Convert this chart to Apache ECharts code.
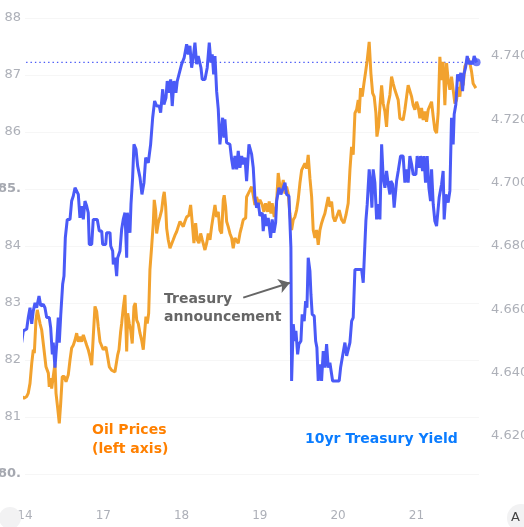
<!DOCTYPE html>
<html>
<head>
<meta charset="utf-8">
<script src="https://cdn.jsdelivr.net/npm/echarts@6/dist/echarts.min.js"></script>
<style>
  html, body { margin: 0; padding: 0; background: #fff; }
  #chart { width: 524px; height: 527px; }
</style>
</head>
<body>
<div id="chart"></div>
<script>
// trading days shown on the time axis (one unit = one session)
const dayLabels = ['14', '17', '18', '19', '20', '21'];

// oil price, left axis (day offset / price)
const oilT = [
  -0.042, -0.013, 0.022, 0.042, 0.064, 0.086, 0.106, 0.119, 0.140, 0.157,
  0.179, 0.192, 0.213, 0.243, 0.268, 0.298, 0.310, 0.328, 0.341, 0.361,
  0.383, 0.396, 0.418, 0.438, 0.456, 0.476, 0.502, 0.524, 0.553, 0.575,
  0.596, 0.617, 0.639, 0.660, 0.681, 0.702, 0.724, 0.745, 0.766, 0.788,
  0.808, 0.830, 0.852, 0.872, 0.894, 0.916, 0.936, 0.958, 0.980, 1.000,
  1.034, 1.051, 1.077, 1.107, 1.149, 1.171, 1.184, 1.201, 1.222, 1.235,
  1.255, 1.277, 1.299, 1.312, 1.332, 1.350, 1.370, 1.392, 1.409, 1.427,
  1.447, 1.469, 1.490, 1.511, 1.533, 1.545, 1.562, 1.580, 1.596, 1.618,
  1.639, 1.651, 1.669, 1.682, 1.702, 1.724, 1.746, 1.766, 1.779, 1.797,
  1.810, 1.830, 1.852, 1.874, 1.894, 1.916, 1.937, 1.958, 1.980, 2.001,
  2.022, 2.043, 2.065, 2.094, 2.116, 2.137, 2.158, 2.180, 2.201, 2.222,
  2.244, 2.264, 2.299, 2.321, 2.341, 2.363, 2.384, 2.405, 2.427, 2.448,
  2.469, 2.490, 2.512, 2.533, 2.545, 2.563, 2.576, 2.596, 2.618, 2.640,
  2.660, 2.682, 2.704, 2.724, 2.746, 2.768, 2.788, 2.819, 2.831, 2.852,
  2.874, 2.895, 2.916, 2.937, 2.959, 2.980, 3.001, 3.031, 3.052, 3.074,
  3.100, 3.120, 3.142, 3.158, 3.184, 3.202, 3.218, 3.235, 3.257, 3.278,
  3.299, 3.321, 3.342, 3.363, 3.384, 3.406, 3.427, 3.448, 3.470, 3.490,
  3.512, 3.534, 3.554, 3.576, 3.598, 3.618, 3.640, 3.662, 3.682, 3.704,
  3.725, 3.746, 3.768, 3.789, 3.810, 3.831, 3.853, 3.874, 3.895, 3.917,
  3.937, 3.959, 3.981, 4.014, 4.045, 4.074, 4.100, 4.129, 4.151, 4.172,
  4.193, 4.215, 4.236, 4.257, 4.270, 4.287, 4.308, 4.330, 4.355, 4.372,
  4.397, 4.419, 4.441, 4.461, 4.483, 4.496, 4.517, 4.534, 4.556, 4.576,
  4.598, 4.619, 4.636, 4.662, 4.683, 4.704, 4.725, 4.747, 4.768, 4.789,
  4.811, 4.831, 4.853, 4.875, 4.895, 4.917, 4.939, 4.959, 4.981, 5.003,
  5.023, 5.045, 5.066, 5.087, 5.109, 5.130, 5.151, 5.172, 5.194, 5.215,
  5.236, 5.258, 5.278, 5.300, 5.322, 5.342, 5.364, 5.386, 5.406, 5.428,
  5.449, 5.470, 5.492, 5.513, 5.534, 5.556, 5.577, 5.598, 5.619, 5.641,
  5.662, 5.683, 5.705, 5.725, 5.747, 5.760
];
const oilV = [
  81.36, 81.33, 81.36, 81.42, 81.59, 81.94, 82.18, 82.12, 82.70, 82.88,
  82.85, 82.64, 82.53, 82.18, 81.88, 81.77, 81.53, 81.68, 81.50, 81.71,
  81.94, 81.42, 81.15, 80.89, 81.24, 81.71, 81.71, 81.62, 81.74, 82.00,
  82.21, 82.26, 82.35, 82.47, 82.32, 82.41, 82.32, 82.44, 82.35, 82.26,
  82.18, 82.06, 81.91, 82.41, 82.94, 82.85, 82.58, 82.32, 82.29, 82.18,
  82.23, 82.09, 81.88, 81.82, 81.79, 81.77, 82.09, 82.18, 82.50, 82.64,
  82.91, 83.14, 82.15, 82.82, 82.64, 82.53, 82.29, 82.94, 83.00, 82.70,
  82.64, 82.47, 82.35, 82.18, 82.56, 82.76, 82.64, 82.82, 83.58, 83.99,
  84.40, 84.81, 84.63, 84.22, 84.40, 84.51, 84.63, 84.86, 84.95, 84.69,
  84.31, 84.11, 83.96, 83.93, 84.11, 84.19, 84.25, 84.34, 84.43, 84.46,
  84.34, 84.43, 84.51, 84.54, 84.72, 84.40, 84.05, 84.40, 84.11, 84.05,
  84.22, 84.11, 83.93, 84.05, 84.22, 84.11, 84.34, 84.37, 84.72, 84.51,
  84.60, 84.28, 84.22, 84.81, 84.89, 84.69, 84.43, 84.34, 84.22, 84.14,
  83.96, 84.14, 84.14, 84.05, 84.22, 84.34, 84.46, 84.49, 84.86, 84.92,
  84.98, 85.04, 84.89, 84.72, 84.86, 84.75, 84.81, 84.72, 84.60, 84.75,
  84.60, 84.78, 84.57, 84.75, 84.51, 84.63, 84.86, 85.28, 85.04, 84.98,
  85.16, 84.92, 85.04, 84.92, 84.57, 84.28, 84.46, 84.51, 84.63, 84.81,
  85.10, 85.33, 85.33, 85.45, 85.36, 85.60, 85.19, 84.86, 84.28, 84.14,
  84.28, 84.02, 84.28, 84.40, 84.49, 84.57, 84.60, 84.86, 84.69, 84.78,
  84.51, 84.43, 84.51, 84.63, 84.46, 84.40, 84.54, 84.75, 85.33, 85.74,
  85.60, 86.33, 86.39, 86.56, 86.33, 86.77, 86.62, 86.85, 87.09, 87.26,
  87.58, 87.03, 86.68, 86.62, 86.33, 85.92, 86.09, 86.44, 86.82, 86.50,
  86.36, 86.09, 86.47, 86.65, 86.97, 86.85, 86.74, 86.65, 86.56, 86.24,
  86.27, 86.21, 86.39, 86.62, 86.82, 86.79, 86.62, 86.47, 86.39, 86.53,
  86.44, 86.24, 86.42, 86.21, 86.36, 86.18, 86.39, 86.42, 86.53, 86.27,
  86.04, 85.98, 86.33, 87.32, 86.91, 87.23, 86.47, 87.21, 86.91, 86.74,
  86.97, 86.74, 86.50, 86.56, 86.79, 86.62, 87.03, 86.82, 87.15, 87.21,
  87.29, 87.21, 87.06, 86.85, 86.82, 86.77
];

// 10yr treasury yield, right axis (day offset / yield %)
const yieldT = [
  -0.042, -0.022, 0.022, 0.042, 0.064, 0.086, 0.106, 0.128, 0.149, 0.179,
  0.201, 0.234, 0.255, 0.277, 0.310, 0.328, 0.349, 0.361, 0.383, 0.405,
  0.425, 0.438, 0.456, 0.481, 0.498, 0.515, 0.540, 0.575, 0.596, 0.617,
  0.639, 0.660, 0.681, 0.702, 0.724, 0.745, 0.766, 0.788, 0.808, 0.821,
  0.852, 0.872, 0.923, 0.949, 0.980, 0.992, 1.031, 1.043, 1.086, 1.095,
  1.120, 1.128, 1.149, 1.171, 1.184, 1.213, 1.235, 1.255, 1.277, 1.299,
  1.307, 1.341, 1.354, 1.375, 1.392, 1.418, 1.439, 1.469, 1.494, 1.520,
  1.542, 1.575, 1.605, 1.631, 1.656, 1.682, 1.715, 1.733, 1.759, 1.775,
  1.801, 1.817, 1.839, 1.861, 1.881, 1.903, 1.928, 1.945, 1.967, 2.001,
  2.034, 2.065, 2.086, 2.107, 2.129, 2.149, 2.171, 2.193, 2.213, 2.248,
  2.264, 2.299, 2.328, 2.354, 2.375, 2.392, 2.410, 2.427, 2.448, 2.469,
  2.490, 2.512, 2.525, 2.542, 2.554, 2.576, 2.618, 2.640, 2.660, 2.682,
  2.704, 2.724, 2.746, 2.768, 2.788, 2.810, 2.831, 2.861, 2.895, 2.916,
  2.937, 2.959, 2.980, 3.001, 3.031, 3.043, 3.065, 3.087, 3.107, 3.138,
  3.158, 3.180, 3.202, 3.215, 3.244, 3.269, 3.299, 3.321, 3.342, 3.372,
  3.384, 3.397, 3.406, 3.427, 3.448, 3.461, 3.483, 3.499, 3.525, 3.541,
  3.567, 3.585, 3.602, 3.618, 3.640, 3.653, 3.669, 3.695, 3.713, 3.729,
  3.746, 3.771, 3.789, 3.810, 3.831, 3.853, 3.874, 3.895, 3.930, 3.981,
  4.014, 4.032, 4.057, 4.087, 4.109, 4.129, 4.151, 4.173, 4.193, 4.215,
  4.257, 4.300, 4.321, 4.342, 4.355, 4.372, 4.397, 4.415, 4.432, 4.448,
  4.470, 4.492, 4.512, 4.534, 4.556, 4.576, 4.598, 4.619, 4.640, 4.662,
  4.674, 4.696, 4.716, 4.747, 4.768, 4.798, 4.831, 4.853, 4.875, 4.895,
  4.917, 4.939, 4.959, 4.994, 5.010, 5.036, 5.054, 5.079, 5.096, 5.117,
  5.138, 5.160, 5.181, 5.194, 5.215, 5.236, 5.258, 5.291, 5.322, 5.342,
  5.355, 5.377, 5.406, 5.428, 5.449, 5.470, 5.483, 5.504, 5.526, 5.547,
  5.568, 5.590, 5.607, 5.628, 5.649, 5.675, 5.696, 5.718, 5.738, 5.769
];
const yieldV = [
  4.6495, 4.6532, 4.6538, 4.6574, 4.6605, 4.6554, 4.6595, 4.6621, 4.6605, 4.6642,
  4.6611, 4.6616, 4.6605, 4.6574, 4.6574, 4.6542, 4.6458, 4.6495, 4.6416, 4.6490,
  4.6574, 4.6495, 4.6579, 4.6679, 4.6705, 4.6826, 4.6884, 4.6884, 4.6942, 4.6958,
  4.6984, 4.6984, 4.6963, 4.6889, 4.6926, 4.6884, 4.6942, 4.6926, 4.6905, 4.6805,
  4.6805, 4.6884, 4.6884, 4.6847, 4.6847, 4.6805, 4.6805, 4.6842, 4.6842, 4.6800,
  4.6784, 4.6742, 4.6763, 4.6705, 4.6763, 4.6784, 4.6853, 4.6884, 4.6905, 4.6763,
  4.6905, 4.6842, 4.6932, 4.7016, 4.7121, 4.7105, 4.7053, 4.7016, 4.6963, 4.7000,
  4.7079, 4.7063, 4.7121, 4.7205, 4.7258, 4.7242, 4.7242, 4.7221, 4.7295, 4.7247,
  4.7268, 4.7321, 4.7284, 4.7326, 4.7242, 4.7321, 4.7284, 4.7321, 4.7321, 4.7374,
  4.7395, 4.7437, 4.7405, 4.7432, 4.7363, 4.7395, 4.7442, 4.7374, 4.7400, 4.7363,
  4.7326, 4.7326, 4.7363, 4.7442, 4.7379, 4.7405, 4.7342, 4.7400, 4.7289, 4.7232,
  4.7121, 4.7174, 4.7205, 4.7142, 4.7200, 4.7126, 4.7121, 4.7074, 4.7042, 4.7084,
  4.7042, 4.7100, 4.7047, 4.7084, 4.7058, 4.7079, 4.7005, 4.7121, 4.7090, 4.7047,
  4.6953, 4.6921, 4.6937, 4.6895, 4.6905, 4.6847, 4.6900, 4.6863, 4.6889, 4.6826,
  4.6884, 4.6842, 4.6874, 4.6942, 4.6984, 4.6963, 4.6984, 4.7000, 4.6963, 4.6958,
  4.6879, 4.6795, 4.6374, 4.6553, 4.6500, 4.6532, 4.6458, 4.6490, 4.6500, 4.6584,
  4.6563, 4.6626, 4.6605, 4.6763, 4.6721, 4.6647, 4.6584, 4.6579, 4.6500, 4.6479,
  4.6374, 4.6426, 4.6374, 4.6468, 4.6416, 4.6490, 4.6416, 4.6431, 4.6374, 4.6374,
  4.6374, 4.6416, 4.6416, 4.6495, 4.6453, 4.6453, 4.6495, 4.6563, 4.6574, 4.6726,
  4.6726, 4.6726, 4.6684, 4.6805, 4.6879, 4.6932, 4.7042, 4.6995, 4.6921, 4.7042,
  4.7000, 4.6884, 4.6932, 4.6884, 4.7121, 4.7016, 4.6984, 4.7037, 4.6995, 4.6963,
  4.7005, 4.6995, 4.6921, 4.7005, 4.7037, 4.7084, 4.7084, 4.7000, 4.7042, 4.7000,
  4.7084, 4.7058, 4.7026, 4.7026, 4.7084, 4.7047, 4.7084, 4.7037, 4.7084, 4.7000,
  4.7084, 4.6984, 4.6942, 4.7042, 4.6932, 4.6879, 4.6863, 4.6953, 4.6995, 4.7037,
  4.6884, 4.6963, 4.6937, 4.6974, 4.7205, 4.7121, 4.7216, 4.7247, 4.7342, 4.7321,
  4.7347, 4.7289, 4.7342, 4.7363, 4.7400, 4.7374, 4.7384, 4.7374, 4.7400, 4.7380
];

// arrow of the "Treasury announcement" note: tail and tip (day offset / yield)
const noteArrowFrom = [2.788, 4.6637];
const noteArrowTo = [3.384, 4.6684];

const BLUE = '#4a5af7';
const ORANGE = '#f2a22e';
const AXIS_GREY = '#adb0b8';
const FONT = 'DejaVu Sans';

const oilData = oilT.map((t, i) => [t, oilV[i]]);
const yieldData = yieldT.map((t, i) => [t, yieldV[i]]);
const lastYield = yieldData[yieldData.length - 1];

const myChart = echarts.init(document.getElementById('chart'));
const option = {
  animation: false,
  backgroundColor: '#fff',
  grid: { left: 25, right: 45, top: 18, bottom: 53, outerBoundsMode: 'none' },
  xAxis: {
    type: 'value',
    min: 0,
    max: 5.8,
    interval: 1,
    axisLine: { show: false },
    axisTick: { show: false },
    splitLine: { show: false },
    axisLabel: {
      margin: 36,
      color: AXIS_GREY,
      fontSize: 12,
      fontFamily: FONT,
      showMaxLabel: false,
      formatter: v => dayLabels[Math.round(v)] || ''
    }
  },
  yAxis: [
    {
      type: 'value',
      position: 'left',
      min: 80,
      max: 88,
      interval: 1,
      axisLine: { show: false },
      axisTick: { show: false },
      splitLine: { lineStyle: { color: '#f6f6f6', width: 1 } },
      axisLabel: {
        margin: 4,
        color: AXIS_GREY,
        fontSize: 13,
        fontFamily: FONT,
        formatter: v => (v === 85 || v === 80) ? '{b|' + v + '.}' : String(v),
        rich: {
          b: { fontWeight: 'bold', color: '#a5a8b0', fontSize: 13, fontFamily: FONT }
        }
      }
    },
    {
      type: 'value',
      position: 'right',
      min: 4.608,
      max: 4.752,
      splitNumber: 7,
      axisLine: { show: false },
      axisTick: { show: false },
      splitLine: { show: false },
      axisLabel: {
        margin: 12,
        color: AXIS_GREY,
        fontSize: 13,
        fontFamily: FONT,
        showMinLabel: false,
        showMaxLabel: false,
        formatter: v => v.toFixed(3)
      }
    }
  ],
  series: [
    {
      name: 'Oil Prices',
      type: 'line',
      yAxisIndex: 0,
      data: oilData,
      showSymbol: false,
      clip: false,
      lineStyle: { color: ORANGE, width: 3 },
      itemStyle: { color: ORANGE },
      z: 2
    },
    {
      name: '10yr Treasury Yield',
      type: 'line',
      yAxisIndex: 1,
      data: yieldData,
      showSymbol: false,
      clip: false,
      lineStyle: { color: BLUE, width: 3 },
      itemStyle: { color: BLUE },
      z: 3,
      markLine: {
        silent: true,
        symbol: ['none', 'arrow'],
        symbolSize: 11,
        label: { show: false },
        lineStyle: { color: '#666', width: 2, type: 'solid' },
        data: [[{ coord: noteArrowFrom }, { coord: noteArrowTo }]]
      }
    },
    {
      // level of the latest yield, carried back across the chart
      name: 'last yield',
      type: 'line',
      yAxisIndex: 1,
      data: [[yieldT[0], lastYield[1]], [lastYield[0], lastYield[1]]],
      showSymbol: false,
      clip: false,
      lineStyle: { color: BLUE, width: 1.4, type: [1.4, 3] },
      z: 1
    },
    {
      type: 'scatter',
      yAxisIndex: 1,
      data: [lastYield],
      symbolSize: 8,
      clip: false,
      itemStyle: { color: BLUE },
      z: 4
    }
  ],
  graphic: [
    {
      type: 'text', left: 92, top: 421, z: 10,
      style: { text: 'Oil Prices\n(left axis)', font: 'bold 14px "DejaVu Sans"', fill: '#ff8000', lineHeight: 19 }
    },
    {
      type: 'text', left: 305, top: 430, z: 10,
      style: { text: '10yr Treasury Yield', font: 'bold 14px "DejaVu Sans"', fill: '#0a7cff', lineHeight: 19 }
    },
    {
      type: 'text', left: 164, top: 290, z: 10,
      style: { text: 'Treasury\nannouncement', font: 'bold 14px "DejaVu Sans"', fill: '#666', lineHeight: 18.5 }
    },
    {
      type: 'circle', z: 10,
      shape: { cx: 10, cy: 518, r: 11 },
      style: { fill: '#f2f2f3' }
    },
    {
      type: 'circle', z: 10,
      shape: { cx: 521, cy: 518, r: 14 },
      style: { fill: '#f2f2f3' }
    },
    {
      type: 'text', left: 511, top: 511, z: 11,
      style: { text: 'A', font: '13px "DejaVu Sans"', fill: '#444' }
    }
  ]
};
myChart.setOption(option);
window.onresize = function () {
  myChart.resize();
};
</script>
</body>
</html>
